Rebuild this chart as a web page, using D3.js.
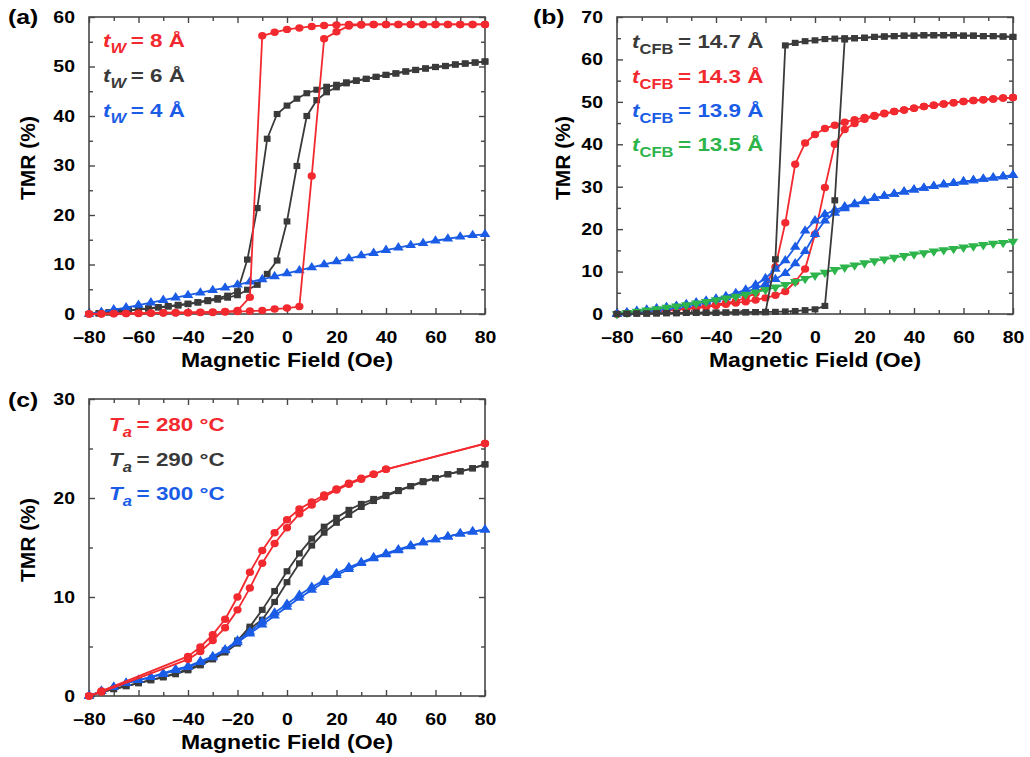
<!DOCTYPE html>
<html><head><meta charset="utf-8">
<script src="https://cdn.jsdelivr.net/npm/d3@7"></script>
<style>html,body{margin:0;padding:0;background:#fff;} svg{display:block;}</style>
</head><body>
<svg id="chart" width="1030" height="757"></svg>
<script>
// ---------------- DATA ----------------
const xTicks = [-80,-60,-40,-20,0,20,40,60,80];
const xTickLabels = ["\u201380","\u201360","\u201340","\u201320","0","20","40","60","80"];
const xMinor = [-70,-50,-30,-10,10,30,50,70];
const yTicksA = [0,10,20,30,40,50,60];
const yMinorA = [5,15,25,35,45,55];
const yTicksB = [0,10,20,30,40,50,60,70];
const yMinorB = [5,15,25,35,45,55,65];
const yTicksC = [0,10,20,30];
const yMinorC = [5,15,25];

const field5 = [-80,-75,-70,-65,-60,-55,-50,-45,-40,-35,-30,-25,-20,-15,-10,-5,0,5,10,15,20,25,30,35,40,45,50,55,60,65,70,75,80];
const field4 = [-80,-76,-72,-68,-64,-60,-56,-52,-48,-44,-40,-36,-32,-28,-24,-20,-16,-12,-8,-4,0,4,8,12,16,20,24,28,32,36,40,44,48,52,56,60,64,68,72,76,80];

// (a) t_W series
const tw8Up   = [0,0,0.05,0.1,0.1,0.15,0.2,0.2,0.25,0.3,0.3,0.4,0.5,0.6,0.7,1.0,1.2,1.5,27.9,55.6,57.0,58.2,58.4,58.5,58.5,58.5,58.5,58.5,58.5,58.5,58.5,58.5,58.5];
const tw8Down = [0,0.05,0.1,0.1,0.15,0.2,0.25,0.3,0.3,0.35,0.4,0.5,0.7,3.4,56.2,56.9,57.5,57.8,58.1,58.3,58.4,58.5,58.5,58.5,58.5,58.5,58.5,58.5,58.5,58.5,58.5,58.5,58.5];
const tw6Up   = [0,0.1,0.3,0.5,0.7,0.9,1.1,1.3,1.5,1.7,2.0,2.3,2.6,2.9,3.3,3.8,4.9,5.9,8.1,10.8,18.7,29.9,40.0,43.2,44.8,45.8,46.6,47.1,47.5,47.9,48.3,48.6,49.0,49.3,49.6,49.9,50.1,50.4,50.6,50.8,51.0];
const tw6Down = [0,0.15,0.35,0.55,0.75,0.95,1.15,1.4,1.6,1.85,2.1,2.4,2.8,3.2,3.7,4.6,11.0,21.4,35.4,40.4,42.1,43.5,44.6,45.3,45.9,46.3,46.8,47.2,47.5,47.9,48.3,48.6,49.0,49.3,49.6,49.9,50.1,50.4,50.6,50.8,51.0];
const tw4     = [0,0.4,0.9,1.3,1.8,2.3,2.8,3.3,3.8,4.3,4.8,5.3,5.9,6.5,7.0,7.6,8.2,8.8,9.4,10.0,10.6,11.2,11.8,12.3,12.9,13.4,13.9,14.3,14.8,15.2,15.6,15.9,16.1];

// (b) t_CFB series
const cfb147Up   = [0,0.05,0.1,0.1,0.15,0.2,0.2,0.25,0.3,0.3,0.3,0.35,0.4,0.4,0.45,0.5,0.5,0.6,0.7,0.9,1.1,1.9,26.8,64.7,65.0,65.1,65.3,65.4,65.5,65.6,65.6,65.7,65.7,65.7,65.7,65.6,65.6,65.5,65.5,65.4,65.3];
const cfb147Down = [0,0.05,0.1,0.1,0.15,0.2,0.2,0.25,0.3,0.3,0.3,0.35,0.4,0.4,0.45,0.4,12.9,63.3,63.9,64.3,64.5,64.8,64.9,65.0,65.0,65.1,65.3,65.4,65.5,65.6,65.6,65.7,65.7,65.7,65.7,65.6,65.6,65.5,65.5,65.4,65.3];
const cfb143Up   = [0,0.15,0.3,0.45,0.6,0.8,1.0,1.2,1.4,1.7,2.0,2.3,2.6,2.9,3.3,3.8,4.4,5.3,7.6,10.6,18.8,29.8,40.0,43.5,44.9,45.9,46.6,47.2,47.7,48.1,48.5,48.9,49.2,49.5,49.8,50.1,50.3,50.5,50.7,50.9,51.0];
const cfb143Down = [0,0.2,0.35,0.5,0.7,0.9,1.1,1.3,1.6,1.9,2.2,2.6,3.0,3.8,4.9,6.6,11.1,21.5,35.3,40.3,42.3,43.7,44.5,45.2,45.8,46.3,46.8,47.3,47.7,48.1,48.5,48.9,49.2,49.5,49.8,50.1,50.3,50.5,50.7,50.9,51.0];
const cfb139Up   = [0,0.3,0.6,0.9,1.2,1.5,1.8,2.1,2.5,2.9,3.4,3.9,4.5,5.2,6.0,7.0,8.2,9.6,11.9,14.8,18.8,22.0,23.8,24.9,25.8,26.5,27.3,27.8,28.3,28.8,29.3,29.7,30.1,30.5,30.8,31.2,31.5,31.8,32.1,32.4,32.7];
const cfb139Down = [0,0.35,0.7,1.0,1.3,1.6,1.9,2.3,2.7,3.1,3.6,4.2,4.9,5.7,6.9,8.4,10.6,12.6,15.8,19.6,22.0,23.5,24.5,25.3,26.0,26.7,27.3,27.8,28.3,28.8,29.3,29.7,30.1,30.5,30.8,31.2,31.5,31.8,32.1,32.4,32.7];
const cfb135     = [0,0.3,0.6,0.9,1.2,1.5,1.8,2.1,2.5,2.9,3.3,3.7,4.1,4.6,5.1,5.7,6.3,6.9,7.6,8.3,9.1,9.8,10.4,11.0,11.5,12.0,12.5,12.9,13.3,13.7,14.1,14.4,14.8,15.1,15.4,15.7,16.0,16.3,16.6,16.8,17.1];

// (c) T_a series
const field280  = [-80,-75,-40,-35,-30,-25,-20,-15,-10,-5,0,5,10,15,20,25,30,35,40,80];
const ta280Up   = [0,0.4,3.7,4.5,5.6,6.9,8.7,10.9,13.4,15.4,17.0,18.4,19.3,20.1,20.8,21.4,21.9,22.4,22.9,25.5];
const ta280Down = [0,0.5,4.0,4.95,6.2,7.75,10.0,12.5,14.7,16.5,17.8,18.9,19.6,20.3,20.9,21.5,22.0,22.4,22.9,25.5];
const ta290Up   = [0,0.4,0.7,1.0,1.3,1.6,1.9,2.2,2.6,3.1,3.7,4.4,5.3,6.8,7.7,9.5,11.5,13.4,15.2,16.5,17.5,18.3,19.1,19.7,20.2,20.7,21.2,21.6,22.0,22.4,22.7,23.0,23.4];
const ta290Down = [0,0.4,0.7,1.0,1.3,1.6,1.9,2.3,2.7,3.2,3.8,4.6,5.6,7.0,8.7,10.6,12.6,14.4,15.9,17.1,18.0,18.8,19.4,19.9,20.3,20.8,21.2,21.7,22.0,22.4,22.7,23.0,23.4];
const ta300Up   = [0,0.5,0.9,1.3,1.6,1.9,2.2,2.6,2.9,3.4,3.9,4.6,5.4,6.3,7.2,8.1,9.0,9.9,10.7,11.5,12.2,12.8,13.4,13.9,14.3,14.7,15.1,15.5,15.8,16.1,16.4,16.6,16.8];
const ta300Down = [0,0.5,0.9,1.3,1.6,1.9,2.3,2.7,3.0,3.5,4.0,4.7,5.6,6.5,7.5,8.4,9.3,10.2,11.0,11.7,12.4,13.0,13.5,14.0,14.4,14.8,15.2,15.5,15.8,16.1,16.4,16.6,16.8];

// legend texts
const legendA = ["= 8 \u00C5", "= 6 \u00C5", "= 4 \u00C5"];
const legendB = ["= 14.7 \u00C5", "= 14.3 \u00C5", "= 13.9 \u00C5", "= 13.5 \u00C5"];
const legendC = ["= 280 \u00B0C", "= 290 \u00B0C", "= 300 \u00B0C"];

// ---------------- DRAWING ----------------
const svg = d3.select('#chart');
const FONT = "'Liberation Sans', Arial, Helvetica, sans-serif";
const SX = 1.18;
const RED = '#f2292e', DARK = '#3a3a3a', BLUE = '#1a5ce6', GREEN = '#2db44b';
const FRAME = '#474747';

const symbols = {
  circle: d3.symbol().type(d3.symbolCircle).size(44)(),
  square: d3.symbol().type(d3.symbolSquare).size(38)(),
  tri: d3.symbol().type(d3.symbolTriangle).size(40)(),
  triDown: d3.symbol().type(d3.symbolTriangle).size(40)()
};

function makePanel(p) {
  const x = d3.scaleLinear().domain([-80, 80]).range([p.left, p.right]);
  const y = d3.scaleLinear().domain([0, p.yMax]).range([p.bottom, p.top]);
  const g = svg.append('g');

  const fmtX = d => xTickLabels[xTicks.indexOf(d)];
  const styleAxis = sel => {
    sel.select('.domain').remove();
    sel.selectAll('.tick line').attr('stroke', FRAME).attr('stroke-width', 1.4);
    sel.attr('font-family', FONT).attr('font-weight', 'bold').attr('font-size', 16.5);
    sel.selectAll('.tick text').attr('fill', '#000');
  };
  g.append('g').attr('transform', `translate(0,${p.bottom})`)
    .call(d3.axisBottom(x).tickValues(xTicks).tickFormat(fmtX).tickSize(-6).tickPadding(17))
    .call(styleAxis)
    .call(s => s.selectAll('.tick text').attr('transform', `scale(${SX},1)`));
  g.append('g').attr('transform', `translate(0,${p.bottom})`)
    .call(d3.axisBottom(x).tickValues(xMinor).tickFormat('').tickSize(-4)).call(styleAxis);
  g.append('g').attr('transform', `translate(0,${p.top})`)
    .call(d3.axisTop(x).tickValues(xTicks).tickFormat('').tickSize(-6)).call(styleAxis);
  g.append('g').attr('transform', `translate(0,${p.top})`)
    .call(d3.axisTop(x).tickValues(xMinor).tickFormat('').tickSize(-4)).call(styleAxis);
  g.append('g').attr('transform', `translate(${p.left},0)`)
    .call(d3.axisLeft(y).tickValues(p.yTicks).tickFormat(d3.format('d')).tickSize(-6).tickPadding(14 / SX))
    .call(styleAxis)
    .call(s => s.selectAll('.tick text').attr('transform', `scale(${SX},1)`));
  g.append('g').attr('transform', `translate(${p.left},0)`)
    .call(d3.axisLeft(y).tickValues(p.yMinor).tickFormat('').tickSize(-4)).call(styleAxis);
  g.append('g').attr('transform', `translate(${p.right},0)`)
    .call(d3.axisRight(y).tickValues(p.yTicks).tickFormat('').tickSize(-6)).call(styleAxis);
  g.append('g').attr('transform', `translate(${p.right},0)`)
    .call(d3.axisRight(y).tickValues(p.yMinor).tickFormat('').tickSize(-4)).call(styleAxis);

  g.append('rect').attr('x', p.left).attr('y', p.top)
    .attr('width', p.right - p.left).attr('height', p.bottom - p.top)
    .attr('fill', 'none').attr('stroke', FRAME).attr('stroke-width', 1.6);

  g.append('text').attr('transform', `translate(${(p.left + p.right) / 2},${p.xTitleY}) scale(${SX},1)`)
    .attr('text-anchor', 'middle').attr('font-family', FONT).attr('font-weight', 'bold')
    .attr('font-size', 19.5).attr('fill', '#000').text('Magnetic Field (Oe)');
  g.append('text').attr('transform', `translate(${p.yTitleX},${p.yTitleY}) rotate(-90)`)
    .attr('text-anchor', 'middle').attr('font-family', FONT).attr('font-weight', 'bold')
    .attr('font-size', 21).attr('fill', '#000').text('TMR (%)');
  g.append('text').attr('transform', `translate(${p.labelX},${p.labelY}) scale(${SX},1)`)
    .attr('font-family', FONT).attr('font-weight', 'bold')
    .attr('font-size', 21).attr('fill', '#000').text(p.label);

  return {g, x, y};
}

function drawSeries(P, fields, vals, color, shape) {
  const data = fields.map((f, i) => [f, vals[i]]);
  P.g.append('path').datum(data)
    .attr('d', d3.line().x(d => P.x(d[0])).y(d => P.y(d[1])))
    .attr('fill', 'none').attr('stroke', color).attr('stroke-width', 1.8)
    .attr('stroke-linejoin', 'round');
  P.g.append('g').selectAll('path').data(data).join('path')
    .attr('d', symbols[shape])
    .attr('transform', d => `translate(${P.x(d[0])},${P.y(d[1])}) scale(1.1,1)` + (shape === 'triDown' ? ' rotate(180)' : ''))
    .attr('fill', color);
}

function legend(P, x, ys, main, sub, subItalic, texts, colors) {
  texts.forEach((t, i) => {
    const tx = P.g.append('text')
      .attr('transform', `translate(${x},${ys[i]}) scale(${SX},1)`)
      .attr('font-family', FONT).attr('font-weight', 'bold').attr('font-size', 19)
      .attr('fill', colors[i]);
    tx.append('tspan').attr('font-style', 'italic').text(main);
    tx.append('tspan').attr('font-style', subItalic ? 'italic' : 'normal')
      .attr('font-size', 14).attr('dy', 6).text(sub);
    tx.append('tspan').attr('dy', -6).attr('dx', 4).text(t);
  });
}

// Panel (a)
const A = makePanel({left: 89, right: 485, top: 17, bottom: 314, yMax: 60, yTicks: yTicksA, yMinor: yMinorA,
  label: '(a)', labelX: 8, labelY: 24, yTitleX: 35, yTitleY: 158, xTitleY: 367});
drawSeries(A, field4, tw6Down, DARK, 'square');
drawSeries(A, field4, tw6Up, DARK, 'square');
drawSeries(A, field5, tw4, BLUE, 'tri');
drawSeries(A, field5, tw8Down, RED, 'circle');
drawSeries(A, field5, tw8Up, RED, 'circle');
legend(A, 103, [47, 82, 117], 't', 'W', true, legendA, [RED, DARK, BLUE]);

// Panel (b)
const B = makePanel({left: 617, right: 1013, top: 17, bottom: 314, yMax: 70, yTicks: yTicksB, yMinor: yMinorB,
  label: '(b)', labelX: 533, labelY: 24, yTitleX: 570, yTitleY: 158, xTitleY: 367});
drawSeries(B, field4, cfb143Down, RED, 'circle');
drawSeries(B, field4, cfb143Up, RED, 'circle');
drawSeries(B, field4, cfb139Down, BLUE, 'tri');
drawSeries(B, field4, cfb139Up, BLUE, 'tri');
drawSeries(B, field4, cfb135, GREEN, 'triDown');
drawSeries(B, field4, cfb147Down, DARK, 'square');
drawSeries(B, field4, cfb147Up, DARK, 'square');
legend(B, 632, [48, 82.5, 117, 150.5], 't', 'CFB', false, legendB, [DARK, RED, BLUE, GREEN]);

// Panel (c)
const C = makePanel({left: 89, right: 485, top: 399, bottom: 696, yMax: 30, yTicks: yTicksC, yMinor: yMinorC,
  label: '(c)', labelX: 8, labelY: 407, yTitleX: 35, yTitleY: 540, xTitleY: 749});
drawSeries(C, field5, ta290Down, DARK, 'square');
drawSeries(C, field5, ta290Up, DARK, 'square');
drawSeries(C, field5, ta300Down, BLUE, 'tri');
drawSeries(C, field5, ta300Up, BLUE, 'tri');
drawSeries(C, field280, ta280Down, RED, 'circle');
drawSeries(C, field280, ta280Up, RED, 'circle');
legend(C, 109, [431, 465.5, 500], 'T', 'a', true, legendC, [RED, DARK, BLUE]);
</script>
</body></html>
